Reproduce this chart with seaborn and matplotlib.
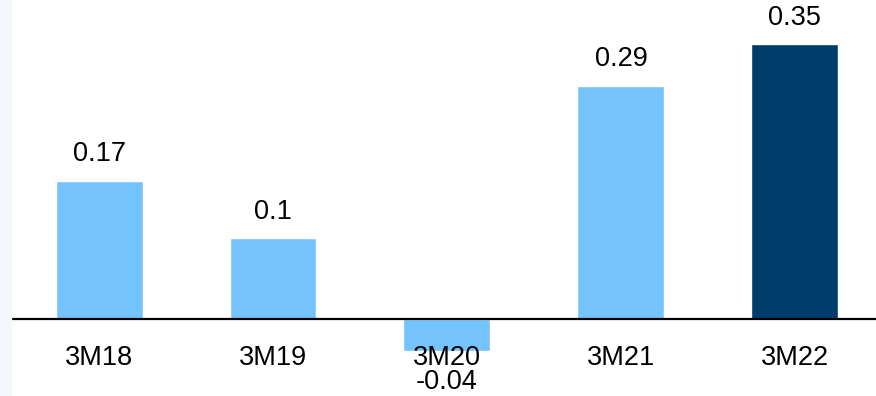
import matplotlib

matplotlib.use("Agg")
import matplotlib.pyplot as plt
import pandas as pd
import seaborn as sns
from matplotlib.patches import Rectangle

periods = ["3M18", "3M19", "3M20", "3M21", "3M22"]
values = [0.176, 0.103, -0.041, 0.297, 0.35]
value_labels = ["0.17", "0.1", "-0.04", "0.29", "0.35"]
bar_colors = ["#75c3fd", "#75c3fd", "#75c3fd", "#75c3fd", "#003d6b"]

sns.set_theme(style="white")
plt.rcParams["font.family"] = ["Liberation Sans", "DejaVu Sans"]

df = pd.DataFrame({"period": periods, "value": values})

fig = plt.figure(figsize=(8.76, 3.96), dpi=100)
fig.patches.append(Rectangle((0, 0), 11 / 876, 1, transform=fig.transFigure,
                             color="#f4f8fc", zorder=0))
ax = fig.add_axes([11 / 876, 0, 1 - 11 / 876, 1])

sns.barplot(data=df, x="period", y="value", hue="period",
            palette=dict(zip(periods, bar_colors)), width=0.5,
            legend=False, ax=ax, saturation=1)

ax.axhline(0, color="black", linewidth=1.6, zorder=1)

for i, (v, lab) in enumerate(zip(values, value_labels)):
    off = 19 if v >= 0 else -22
    ax.annotate(lab, (i, v), xytext=(0, off), textcoords="offset points",
                ha="center", va="center", fontsize=19.5, color="black")

ax.set_xlim(-0.506, 4.466)
ax.set_ylim(-0.098, 0.406)
ax.set_xlabel("")
ax.set_ylabel("")
ax.set_yticks([])
ax.tick_params(axis="x", length=0, labelsize=19.5, labelcolor="black", pad=-37)
ax.xaxis.set_zorder(5)
for s in ax.spines.values():
    s.set_visible(False)
ax.patch.set_alpha(0)

fig.savefig("out.png", dpi=100)
